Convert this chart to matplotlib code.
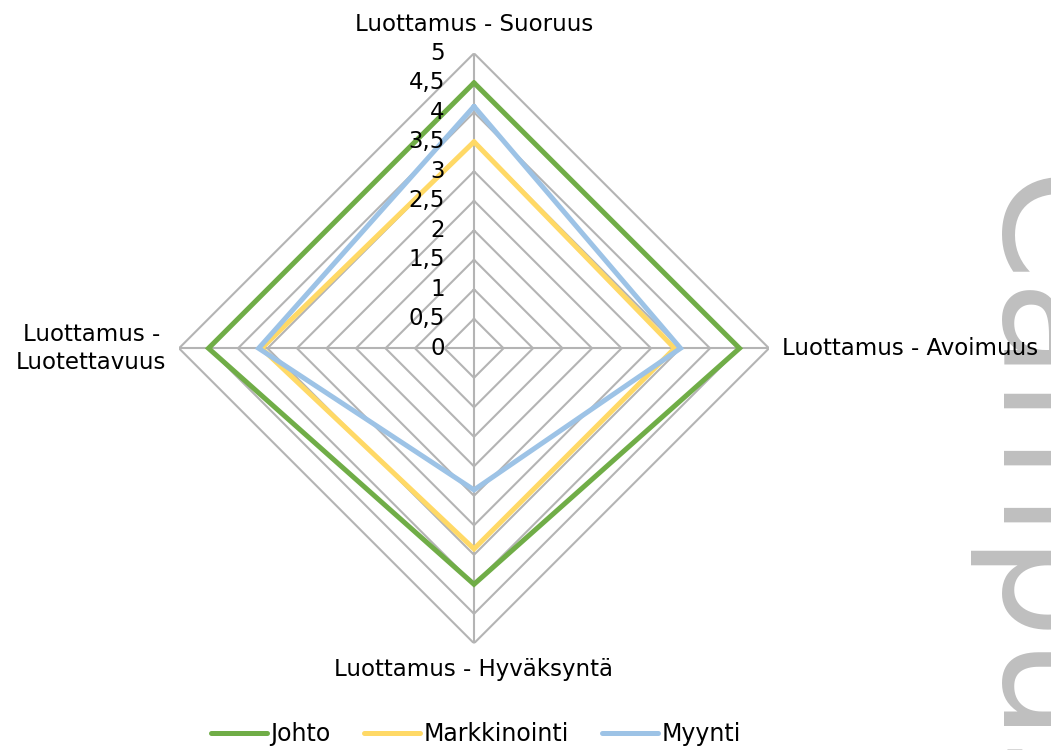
import matplotlib
matplotlib.use('Agg')
import matplotlib.pyplot as plt
import numpy as np
from matplotlib.transforms import offset_copy

categories = ['Luottamus - Suoruus', 'Luottamus - Avoimuus',
              'Luottamus - Hyväksyntä', 'Luottamus -\nLuotettavuus']
series_names = ['Johto', 'Markkinointi', 'Myynti']
johto = [4.5, 4.5, 4.0, 4.5]
markkinointi = [3.5, 3.4, 3.4, 3.6]
myynti = [4.1, 3.5, 2.4, 3.65]
levels = [0, 0.5, 1, 1.5, 2, 2.5, 3, 3.5, 4, 4.5, 5]
tick_labels = ['0', '0,5', '1', '1,5', '2', '2,5', '3', '3,5', '4', '4,5', '5']

colors = ['#70AD47', '#FFD966', '#9DC3E6']
grid_color = '#B4B4B4'
FS = 16.5

W, H = 1051, 750
fig = plt.figure(figsize=(W / 100, H / 100), dpi=100)

# background watermark (partly cut off at the right edge)
fig.text(994 / W, 1 - 176 / H, 'Campus', rotation=-90, rotation_mode='anchor',
         ha='left', va='baseline', fontsize=116, color='#BFBFBF', zorder=-5)

cx, cy, R = 474, 348.3, 295
ax = fig.add_axes([(cx - R) / W, (H - cy - R) / H, 2 * R / W, 2 * R / H],
                  projection='polar')
ax.set_zorder(1)
ax.set_theta_offset(np.pi / 2)
ax.set_theta_direction(-1)
ax.set_ylim(0, 5)
ax.grid(False)
ax.spines['polar'].set_visible(False)
ax.set_xticks([])
ax.set_yticks([])
ax.patch.set_visible(False)

n = len(categories)
theta = np.linspace(0, 2 * np.pi, n, endpoint=False)
tc = np.append(theta, theta[0])

for lv in levels[1:]:
    ax.plot(tc, [lv] * (n + 1), color=grid_color, lw=1.5, zorder=1,
            solid_joinstyle='miter')
for t in theta:
    ax.plot([t, t], [0, 5], color=grid_color, lw=1.5, zorder=1)

for name, vals, col in zip(series_names, [johto, markkinointi, myynti], colors):
    v = list(vals) + [vals[0]]
    ax.plot(tc, v, color=col, lw=3.6, label=name, zorder=3,
            solid_joinstyle='miter', solid_capstyle='round')

# radial tick labels
tr = offset_copy(ax.transData, fig=fig, x=-21, y=0, units='points')
for lv, lab in zip(levels, tick_labels):
    ax.text(0, lv, lab, transform=tr, ha='right', va='center',
            fontsize=FS, color='#000000', zorder=4)

# category labels
offsets = [(0, 21, 'center', 'center'), (9, 0, 'left', 'center'),
           (0, -19, 'center', 'center'), (-9, 0, 'right', 'center')]
for t, lab, (dx, dy, ha, va) in zip(theta, categories, offsets):
    trc = offset_copy(ax.transData, fig=fig, x=dx, y=dy, units='points')
    ax.text(t, 5, lab, transform=trc, ha=ha, va=va, fontsize=FS,
            color='#000000', multialignment='center', linespacing=1.25,
            zorder=5)

leg = fig.legend(loc='center', bbox_to_anchor=(476 / W, 16 / H), ncol=3,
                 frameon=False, handlelength=2.35, handletextpad=0.15,
                 columnspacing=1.42, fontsize=17)

fig.savefig('out.png', dpi=100)
